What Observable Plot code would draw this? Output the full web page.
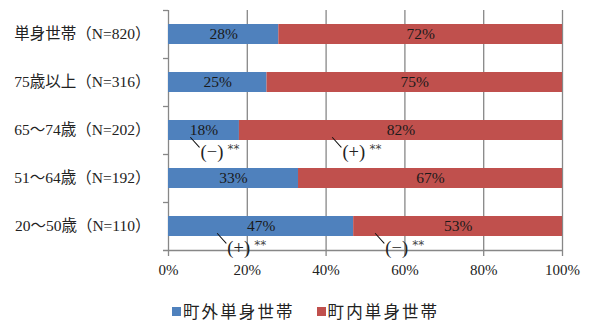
<!DOCTYPE html>
<html><head><meta charset="utf-8">
<script src="https://cdn.jsdelivr.net/npm/d3@7"></script>
<script src="https://cdn.jsdelivr.net/npm/@observablehq/plot@0.6"></script>
<style>
body{margin:0;background:#fff;}
#chart{width:593px;height:323px;position:relative;}
.legend{position:absolute;top:303px;left:172px;display:flex;align-items:center;font-family:"Noto Sans CJK JP",sans-serif;font-size:16.5px;line-height:17px;letter-spacing:2.1px;color:#222;}
.item{display:flex;align-items:center;margin-right:22px;}
.sw{display:inline-block;width:9px;height:9px;margin-right:2px;}
</style></head><body><div id="chart"></div>
<script>
const categories = ["単身世帯（N=820）","75歳以上（N=316）","65～74歳（N=202）","51～64歳（N=192）","20～50歳（N=110）"];
const series = ["町外単身世帯","町内単身世帯"];
const outsideValues = [28,25,18,33,47];
const insideValues = [72,75,82,67,53];
const colors = ["#4F81BD","#C0504D"];
const xTicks = [0,20,40,60,80,100];
const annCategories = ["65～74歳（N=202）","65～74歳（N=202）","20～50歳（N=110）","20～50歳（N=110）"];
const annX = [5.6, 41.6, 12.4, 52.5];
const annSign = ["(−)","(+)","(+)","(−)"];
const annStars = ["**","**","**","**"];

const data = categories.flatMap((c,i)=>[
  {cat:c, series:series[0], value:outsideValues[i]},
  {cat:c, series:series[1], value:insideValues[i]}
]);
const ann = annCategories.map((c,i)=>({cat:c, x:annX[i], sign:annSign[i], stars:annStars[i]}));
const font = '"Liberation Serif","Noto Sans CJK JP",serif';
const grid = "#878787";

const plot = Plot.plot({
  width:593, height:290,
  marginLeft:168, marginRight:31, marginTop:10, marginBottom:40,
  style:{fontFamily:font, fontSize:"15px", color:"#222", background:"#fff"},
  x:{domain:[0,100], label:null},
  y:{domain:categories, paddingInner:0.583, paddingOuter:0.2915, label:null},
  color:{domain:series, range:colors},
  marks:[
    Plot.ruleX(xTicks, {stroke:grid, strokeWidth:1.3, insetBottom:-6}),
    Plot.ruleY([categories[categories.length-1]], {dy:24, stroke:grid, strokeWidth:1.3, insetLeft:-5}),
    Plot.axisY({tickSize:5, tickFormat:()=>"", dy:-24, stroke:grid, strokeWidth:1.3, label:null}),
    Plot.axisY({tickSize:0, tickPadding:18, fontSize:15.5, label:null, fill:"#222"}),
    Plot.axisX({ticks:xTicks, tickSize:0, tickPadding:14, tickFormat:d=>d+"%", fontSize:15, label:null, fill:"#222"}),
    Plot.barX(data, Plot.stackX({x:"value", y:"cat", fill:"series"})),
    Plot.text(data, Plot.stackX({x:"value", y:"cat", z:"series", text:d=>d.value+"%", fill:"#1a1a1a", fontSize:15.5})),
    Plot.vector(ann, {x:"x", y:"cat", dy:7, length:13, rotate:138, anchor:"start", stroke:"#111", strokeWidth:1,
      shape:{draw(ctx,l){ctx.moveTo(0,0); ctx.lineTo(0,-l);}}}),
    Plot.text(ann, {x:"x", y:"cat", text:"sign", textAnchor:"start", dx:10, dy:22, fontSize:18.5, fill:"#222"}),
    Plot.text(ann, {x:"x", y:"cat", text:"stars", textAnchor:"start", dx:37, dy:19, fontSize:12, fill:"#444", fontFamily:"DejaVu Sans"})
  ]
});
const chart = document.getElementById("chart");
chart.appendChild(plot);
const legend = document.createElement("div");
legend.className = "legend";
series.forEach((s,i)=>{
  const it = document.createElement("div"); it.className="item";
  const sw = document.createElement("span"); sw.className="sw"; sw.style.background=colors[i];
  const t = document.createElement("span"); t.textContent=s;
  it.appendChild(sw); it.appendChild(t); legend.appendChild(it);
});
chart.appendChild(legend);
</script></body></html>
